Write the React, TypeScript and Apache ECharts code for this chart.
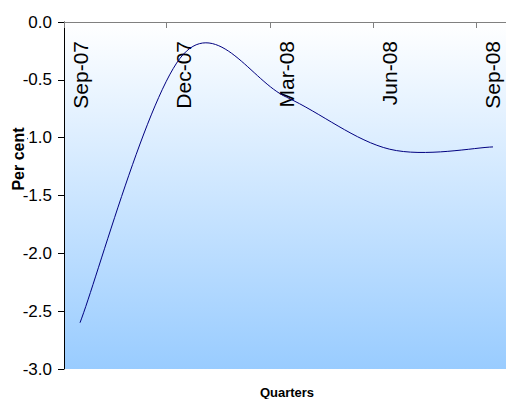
import React, { useEffect, useRef } from "react";
import * as echarts from "echarts";

// Quarterly change, per cent
const quarters = ["Sep-07", "Dec-07", "Mar-08", "Jun-08", "Sep-08"];
const values = [-2.6, -0.28, -0.65, -1.1, -1.08];
const yTicks = { min: -3, max: 0, step: 0.5 };

// x extent in category units: ticks sit a little left of each quarter
const X_MIN = -0.155;
const X_MAX = 4.126;

const FONT = 'Arial, "Liberation Sans", sans-serif';

// Cardinal (Catmull-Rom style) smoothing through the projected points
function smoothPath(pts: number[][]): string {
  const n = pts.length;
  const at = (i: number) => pts[Math.max(0, Math.min(n - 1, i))];
  let d = `M${pts[0][0]},${pts[0][1]}`;
  for (let i = 0; i < n - 1; i++) {
    const p0 = at(i - 1);
    const p1 = at(i);
    const p2 = at(i + 1);
    const p3 = at(i + 2);
    const c1x = p1[0] + (p2[0] - p0[0]) / 6;
    const c1y = p1[1] + (p2[1] - p0[1]) / 6;
    const c2x = p2[0] - (p3[0] - p1[0]) / 6;
    const c2y = p2[1] - (p3[1] - p1[1]) / 6;
    d += ` C${c1x},${c1y} ${c2x},${c2y} ${p2[0]},${p2[1]}`;
  }
  return d;
}

export default function App() {
  const ref = useRef<HTMLDivElement>(null);

  useEffect(() => {
    if (!ref.current) return;
    const chart = echarts.init(ref.current, undefined, { renderer: "svg" });
    const points = values.map((v, i) => [i, v]);

    chart.setOption({
      animation: false,
      backgroundColor: "#ffffff",
      grid: {
        left: 64,
        right: 0,
        top: 22,
        bottom: 30,
        show: true,
        borderWidth: 0,
        backgroundColor: new echarts.graphic.LinearGradient(0, 0, 0, 1, [
          { offset: 0, color: "#ffffff" },
          { offset: 1, color: "#99ccff" },
        ]),
      },
      xAxis: [
        {
          type: "value",
          position: "top",
          min: X_MIN,
          max: X_MAX,
          interval: 1,
          axisLine: { show: true, onZero: false, lineStyle: { color: "#808080", width: 1 } },
          axisTick: { show: true, inside: true, length: 6, lineStyle: { color: "#808080" } },
          axisLabel: { show: false },
          splitLine: { show: false },
        },
        {
          type: "value",
          position: "top",
          min: X_MIN,
          max: X_MAX,
          axisLine: { show: false, onZero: false },
          axisTick: { show: false },
          splitLine: { show: false },
          axisLabel: {
            show: true,
            inside: true,
            rotate: -90,
            margin: 19,
            color: "#000",
            fontSize: 21,
            fontFamily: FONT,
            showMinLabel: false,
            showMaxLabel: false,
            formatter: (v: number) => {
              const i = Math.round(v);
              return Math.abs(v - i) < 1e-6 && quarters[i] ? quarters[i] : "";
            },
          },
        },
      ],
      yAxis: {
        type: "value",
        min: yTicks.min,
        max: yTicks.max,
        interval: yTicks.step,
        axisLine: { show: true, onZero: false, lineStyle: { color: "#000", width: 1 } },
        axisTick: { show: true, length: 6, lineStyle: { color: "#000" } },
        splitLine: { show: false },
        axisLabel: {
          margin: 12,
          color: "#000",
          fontSize: 17,
          fontFamily: FONT,
          formatter: (v: number) => v.toFixed(1),
        },
      },
      series: [
        {
          type: "custom",
          xAxisIndex: 0,
          data: points,
          renderItem: (params: any, api: any) => {
            if (params.dataIndex !== 0) return null;
            const px = points.map((p) => api.coord(p));
            return {
              type: "path",
              shape: { pathData: smoothPath(px) },
              style: { fill: "none", stroke: "#000080", lineWidth: 1 },
            };
          },
        },
      ],
      graphic: [
        {
          type: "text",
          z: 100,
          x: 18,
          y: 159,
          rotation: Math.PI / 2,
          style: {
            text: "Per cent",
            fontSize: 16,
            fontWeight: "bold",
            fontFamily: FONT,
            fill: "#000",
            align: "center",
            verticalAlign: "middle",
            backgroundColor: "#ffffff",
            padding: [1, 3],
          },
        },
        {
          type: "text",
          z: 100,
          x: 287,
          y: 392,
          style: {
            text: "Quarters",
            fontSize: 13,
            fontWeight: "bold",
            fontFamily: FONT,
            fill: "#000",
            align: "center",
            verticalAlign: "middle",
          },
        },
      ],
    });

    return () => chart.dispose();
  }, []);

  return (
    <div
      ref={ref}
      style={{ position: "fixed", left: 0, top: 0, width: 506, height: 399 }}
    />
  );
}
